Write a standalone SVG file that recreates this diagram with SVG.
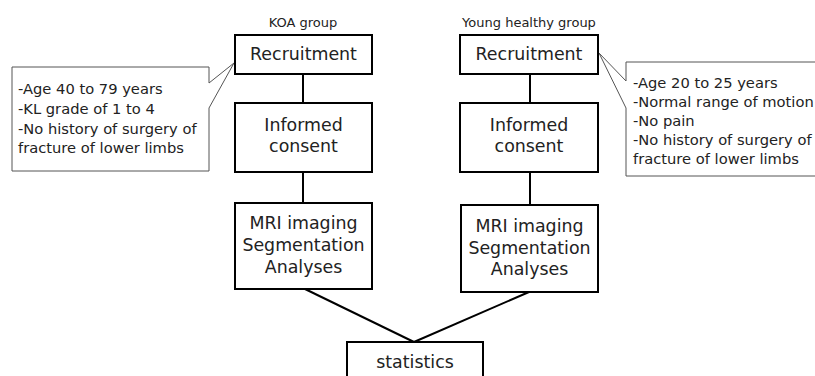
<svg xmlns="http://www.w3.org/2000/svg" width="815" height="376" viewBox="0 0 815 376">
<style>
.box{fill:#fff;stroke:#000;stroke-width:2}
.call{fill:#fff;stroke:#555;stroke-width:1}
.t{font-family:"DejaVu Sans","Liberation Sans",sans-serif;font-size:17.4px;fill:#222;text-anchor:middle;dominant-baseline:central}
.c{font-family:"DejaVu Sans","Liberation Sans",sans-serif;font-size:14.7px;fill:#222;dominant-baseline:central}
.h{font-family:"DejaVu Sans","Liberation Sans",sans-serif;font-size:13px;fill:#222;text-anchor:middle;dominant-baseline:central}
.ln{stroke:#000;stroke-width:2;fill:none}
</style>
<rect width="815" height="376" fill="#fff"/>
<g id="connectors">
<line class="ln" x1="303" y1="74" x2="303" y2="103"/>
<line class="ln" x1="303" y1="172" x2="303" y2="203"/>
<line class="ln" x1="530" y1="74" x2="530" y2="103"/>
<line class="ln" x1="530" y1="172" x2="530" y2="205"/>
<line class="ln" x1="305" y1="289" x2="414" y2="342"/>
<line class="ln" x1="529" y1="292" x2="414" y2="342"/>
</g>
<g id="label-koa"><text class="h" x="303" y="22">KOA group</text></g>
<g id="label-young"><text class="h" x="529" y="22">Young healthy group</text></g>
<g id="callout-koa">
<path class="call" d="M12 67 H209 V83 L234 63 L209 108 V171 H12 Z"/>
<text class="c" x="18" y="88">-Age 40 to 79 years</text>
<text class="c" x="18" y="108">-KL grade of 1 to 4</text>
<text class="c" x="18" y="128">-No history of surgery of</text>
<text class="c" x="18" y="147">fracture of lower limbs</text>
</g>
<g id="callout-young">
<path class="call" d="M830 62 H626 V81 L599 53 L626 108 V176 H830"/>
<text class="c" x="633" y="82">-Age 20 to 25 years</text>
<text class="c" x="633" y="101">-Normal range of motion</text>
<text class="c" x="633" y="120">-No pain</text>
<text class="c" x="633" y="139">-No history of surgery of</text>
<text class="c" x="633" y="158">fracture of lower limbs</text>
</g>
<g id="recruit-koa"><rect class="box" x="235" y="35" width="137" height="39"/><text class="t" x="303.5" y="54">Recruitment</text></g>
<g id="consent-koa"><rect class="box" x="235" y="103" width="137" height="69"/><text class="t" x="303.5" y="125">Informed</text><text class="t" x="303.5" y="146">consent</text></g>
<g id="mri-koa"><rect class="box" x="235" y="203" width="137" height="86"/><text class="t" x="303.5" y="223">MRI imaging</text><text class="t" x="303.5" y="245">Segmentation</text><text class="t" x="303.5" y="267">Analyses</text></g>
<g id="recruit-young"><rect class="box" x="460" y="35" width="138" height="39"/><text class="t" x="529" y="54">Recruitment</text></g>
<g id="consent-young"><rect class="box" x="460" y="103" width="138" height="69"/><text class="t" x="529" y="125">Informed</text><text class="t" x="529" y="146">consent</text></g>
<g id="mri-young"><rect class="box" x="461" y="205" width="137" height="87"/><text class="t" x="529.5" y="226">MRI imaging</text><text class="t" x="529.5" y="248">Segmentation</text><text class="t" x="529.5" y="269">Analyses</text></g>
<g id="statistics"><rect class="box" x="347" y="342" width="136" height="40"/><text class="t" x="415" y="362">statistics</text></g>
</svg>
